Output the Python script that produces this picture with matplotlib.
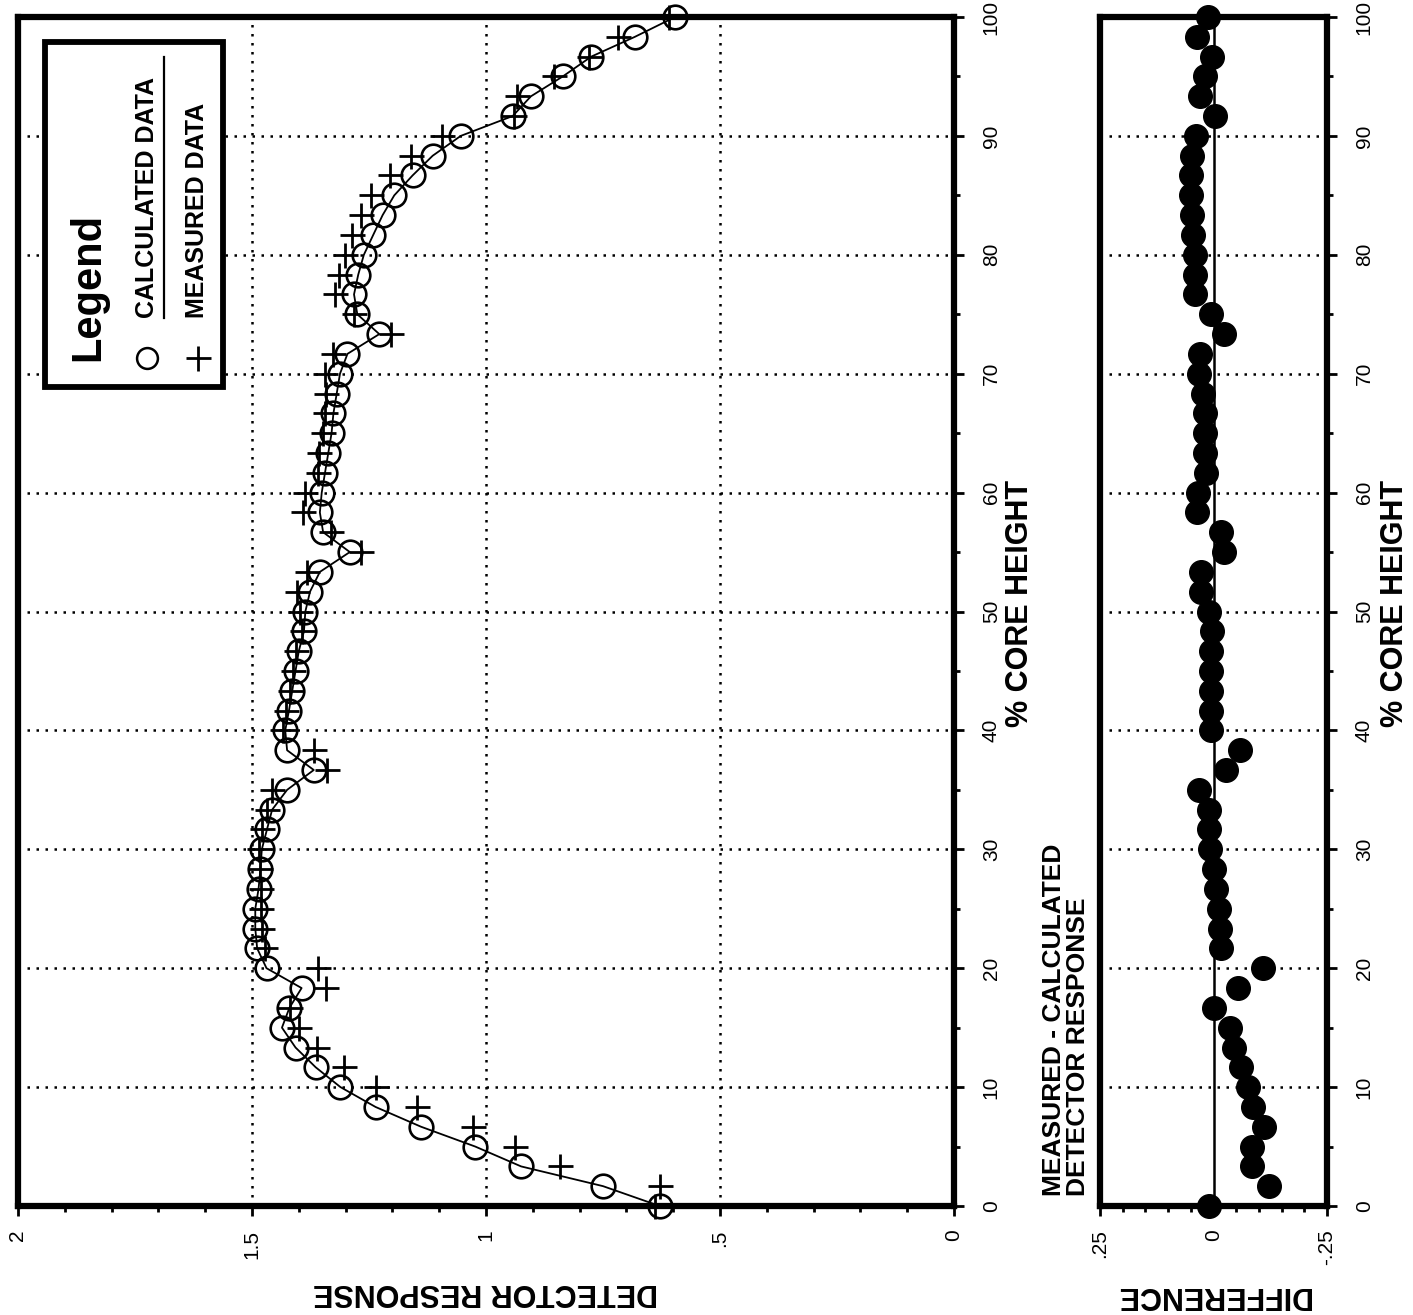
import matplotlib
matplotlib.use("Agg")
import matplotlib.pyplot as plt
import numpy as np
from matplotlib.patches import Rectangle
from matplotlib.lines import Line2D
from matplotlib.ticker import MultipleLocator, FixedLocator

plt.rcParams["font.family"] = ["Liberation Sans", "DejaVu Sans"]

# % core height of each axial level
core_height = [0, 1.67, 3.33, 5, 6.67, 8.33, 10, 11.67, 13.33, 15,
               16.67, 18.33, 20, 21.67, 23.33, 25, 26.67, 28.33, 30, 31.67,
               33.33, 35, 36.67, 38.33, 40, 41.67, 43.33, 45, 46.67, 48.33,
               50, 51.67, 53.33, 55, 56.67, 58.33, 60, 61.67, 63.33, 65,
               66.67, 68.33, 70, 71.67, 73.33, 75, 76.67, 78.33, 80, 81.67,
               83.33, 85, 86.67, 88.33, 90, 91.67, 93.33, 95, 96.67, 98.33, 100]

calculated = [0.629, 0.750, 0.925, 1.023, 1.139, 1.236, 1.311, 1.364, 1.407, 1.436,
              1.420, 1.394, 1.469, 1.489, 1.493, 1.493, 1.486, 1.482, 1.479, 1.468,
              1.457, 1.425, 1.368, 1.425, 1.429, 1.421, 1.414, 1.407, 1.400, 1.389,
              1.386, 1.376, 1.355, 1.291, 1.348, 1.355, 1.351, 1.344, 1.337, 1.330,
              1.326, 1.319, 1.312, 1.296, 1.228, 1.275, 1.282, 1.273, 1.261, 1.241,
              1.221, 1.196, 1.157, 1.114, 1.054, 0.943, 0.904, 0.836, 0.775, 0.682, 0.596]

measured = [0.639, 0.628, 0.841, 0.939, 1.027, 1.148, 1.236, 1.304, 1.362, 1.400,
            1.418, 1.341, 1.359, 1.472, 1.478, 1.481, 1.480, 1.482, 1.486, 1.479,
            1.468, 1.458, 1.340, 1.367, 1.434, 1.427, 1.419, 1.413, 1.405, 1.393,
            1.397, 1.404, 1.383, 1.267, 1.332, 1.391, 1.386, 1.360, 1.356, 1.349,
            1.345, 1.342, 1.344, 1.326, 1.204, 1.281, 1.323, 1.314, 1.302, 1.286,
            1.268, 1.245, 1.206, 1.161, 1.093, 0.940, 0.934, 0.855, 0.779, 0.718, 0.609]

resp_ticks = [2, 1.5, 1, 0.5, 0]
resp_labels = ["2", "1.5", "1", ".5", "0"]
diff_ticks = [0.25, 0, -0.25]
diff_labels = [".25", "0", "-.25"]
height_ticks = [0, 10, 20, 30, 40, 50, 60, 70, 80, 90, 100]

difference = np.array(measured) - np.array(calculated)

W, H = 1413, 1315
fig = plt.figure(figsize=(W / 100, H / 100), dpi=100)


def fx(x):
    return x / W


def fy(y):
    return 1 - y / H


def style_axes(ax):
    for s in ax.spines.values():
        s.set_linewidth(4.5)
    ax.yaxis.tick_right()
    ax.yaxis.set_major_locator(FixedLocator(height_ticks))
    ax.yaxis.set_minor_locator(MultipleLocator(5))
    ax.tick_params(axis="both", which="major", direction="out", length=7,
                   width=2, labelsize=15)
    ax.tick_params(axis="both", which="minor", direction="out", length=4,
                   width=2)
    ax.tick_params(axis="y", which="both", left=False, right=True,
                   labelleft=False, labelright=True, labelrotation=90, pad=13)
    ax.tick_params(axis="x", which="both", top=False, bottom=True,
                   labelrotation=90, pad=10)
    for lab in ax.get_yticklabels():
        lab.set_va("center")
        lab.set_ha("left")
    ax.set_ylim(0, 100)
    for h in height_ticks[1:-1]:
        ax.axhline(h, color="black", lw=1.8, ls=(0, (1, 2.6)), zorder=1)


# main panel: detector response
ax = fig.add_axes([fx(18), fy(1206), fx(954) - fx(18), fy(17) - fy(1206)])
ax.set_xlim(2, 0)
ax.xaxis.set_major_locator(FixedLocator(resp_ticks))
ax.xaxis.set_minor_locator(MultipleLocator(0.1))
ax.set_xticklabels(resp_labels)
style_axes(ax)
for v in resp_ticks[1:-1]:
    ax.axvline(v, color="black", lw=1.8, ls=(0, (1, 2.6)), zorder=1)

ax.plot(calculated, core_height, color="black", lw=1.3, marker="o",
        markersize=17, markerfacecolor="none", markeredgewidth=1.9,
        clip_on=False, zorder=3)
ax.plot(measured, core_height, ls="none", color="black", marker="+",
        markersize=18, markeredgewidth=2.0, clip_on=False, zorder=4)

# difference panel
ax2 = fig.add_axes([fx(1100), fy(1206), fx(1327) - fx(1100), fy(17) - fy(1206)])
ax2.set_xlim(0.25, -0.25)
ax2.xaxis.set_major_locator(FixedLocator(diff_ticks))
ax2.xaxis.set_minor_locator(MultipleLocator(0.05))
ax2.set_xticklabels(diff_labels)
style_axes(ax2)
ax2.axvline(0, color="black", lw=1.8, zorder=2)
ax2.plot(difference, core_height, ls="none", marker="o", color="black",
         markersize=17, clip_on=False, zorder=3)

# axis titles
bold = dict(fontweight="bold", color="black")
fig.text(fx(486), fy(1292), "DETECTOR RESPONSE", rotation=180, ha="center",
         va="center", fontsize=22, **bold)
fig.text(fx(1213), fy(1295), "DIFFERENCE", rotation=180, ha="center",
         va="center", fontsize=22, **bold)
fig.text(fx(1020), fy(603), "% CORE HEIGHT", rotation=90, ha="center",
         va="center", fontsize=22, **bold)
fig.text(fx(1395), fy(603), "% CORE HEIGHT", rotation=90, ha="center",
         va="center", fontsize=22, **bold)
fig.text(fx(1066), fy(1196), "MEASURED - CALCULATED\nDETECTOR RESPONSE",
         rotation=90, ha="center", va="bottom", multialignment="left",
         fontsize=19, linespacing=1.0, **bold)

# legend box drawn by hand (rotated)
fig.add_artist(Rectangle((fx(45), fy(387)), fx(223) - fx(45), fy(42) - fy(387),
                         transform=fig.transFigure, facecolor="white",
                         edgecolor="black", lw=4.2, zorder=5))
fig.text(fx(88), fy(361), "Legend", rotation=90, ha="center", va="bottom",
         fontsize=30, zorder=6, **bold)
fig.add_artist(Line2D([fx(147)], [fy(358)], marker="o", markersize=15,
                      markerfacecolor="none", markeredgecolor="black",
                      markeredgewidth=1.8, transform=fig.transFigure, zorder=6))
fig.text(fx(147), fy(318), "CALCULATED DATA", rotation=90, ha="center",
         va="bottom", fontsize=18, zorder=6, **bold)
fig.add_artist(Line2D([fx(164), fx(164)], [fy(318), fy(57)], color="black",
                      lw=1.6, transform=fig.transFigure, zorder=6))
fig.add_artist(Line2D([fx(198)], [fy(358)], marker="+", markersize=18,
                      color="black", markeredgewidth=2.0,
                      transform=fig.transFigure, zorder=6))
fig.text(fx(197), fy(318), "MEASURED DATA", rotation=90, ha="center",
         va="bottom", fontsize=18, zorder=6, **bold)

fig.savefig("out.png", dpi=100)
